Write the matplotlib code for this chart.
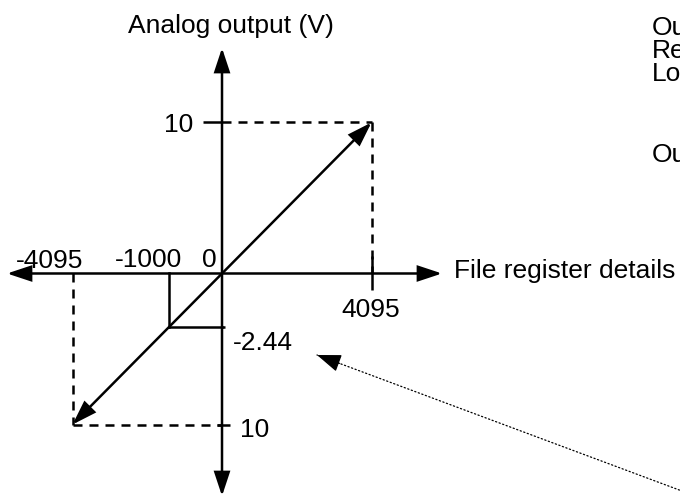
import numpy as np
import matplotlib
matplotlib.use("Agg")
import matplotlib.pyplot as plt

# ---- data -------------------------------------------------------------
reg_full = 4095            # file register full scale
volt_full = 10             # analog output full scale (V)
line_regs = [-4095, 0, 4095]
line_volts = [-10, 0, 10]
example_reg = -1000
example_volt = -2.44
x_tick_values = [-4095, -1000, 0, 4095]
x_tick_labels = ["-4095", "-1000", "0", "4095"]
y_tick_values = [10, -2.44, -10]
y_tick_labels = ["10", "-2.44", "10"]
y_title = "Analog output (V)"
x_title = "File register details"
side_lines = ["Ou", "Re", "Lo", "Ou"]

# ---- schematic (symmetric power) scale --------------------------------
P = 0.733


def make_scale(full):
    def fwd(v):
        v = np.asarray(v, dtype=float)
        return np.sign(v) * (np.abs(v) / full) ** P

    def inv(u):
        u = np.asarray(u, dtype=float)
        return np.sign(u) * np.abs(u) ** (1.0 / P) * full

    return fwd, inv


fx, ix = make_scale(reg_full)
fy, iy = make_scale(volt_full)

plt.rcParams["font.family"] = ["Liberation Sans", "DejaVu Sans"]
FS = 19
LW = 1.8

fig = plt.figure(figsize=(6.8, 4.97), dpi=100)
ax = fig.add_axes([0, 0, 1, 1])
ax.set_xscale("function", functions=(fx, ix))
ax.set_yscale("function", functions=(fy, iy))
ax.set_xlim(float(ix(-1.485)), float(ix(3.0635)))
ax.set_ylim(float(iy(-1.480)), float(iy(1.811)))
ax.axis("off")

head = "head_length=1.45,head_width=0.48"
aprops = dict(arrowstyle="<|-|>," + head, mutation_scale=10, lw=LW,
              color="black", shrinkA=0, shrinkB=0, joinstyle="miter")

# axes arrows
ax.annotate("", xy=(0.65, 0), xytext=(0.0103, 0),
            xycoords=("axes fraction", "data"),
            textcoords=("axes fraction", "data"), arrowprops=aprops)
ax.annotate("", xy=(0, 0.9034), xytext=(0, 0.002),
            xycoords=("data", "axes fraction"),
            textcoords=("data", "axes fraction"), arrowprops=aprops)

# transfer line (double headed)
ax.annotate("", xy=(line_regs[-1], line_volts[-1]),
            xytext=(line_regs[0], line_volts[0]), arrowprops=aprops)

# dashed guides
dash = (0, (3.6, 2.8))
ax.plot([0, line_regs[-1]], [line_volts[-1]] * 2, color="black", lw=LW, ls=dash)
ax.plot([line_regs[-1]] * 2, [line_volts[-1], 0], color="black", lw=LW, ls=dash)
ax.plot([line_regs[0], 0], [line_volts[0]] * 2, color="black", lw=LW, ls=dash)
ax.plot([line_regs[0]] * 2, [0, line_volts[0]], color="black", lw=LW, ls=dash)

# example point guides
ax.plot([example_reg, example_reg], [0, example_volt], color="black", lw=LW)
ax.plot([example_reg, 0], [example_volt, example_volt], color="black", lw=LW)
ax.plot([0], [example_volt], marker=1, ms=2.2, mew=LW, color="black")

# ticks
ax.plot([line_regs[-1]], [0], marker="|", ms=25, mew=LW, color="black")
ax.plot([0], [line_volts[-1]], marker=0, ms=13.7, mew=LW, color="black")
ax.plot([0], [line_volts[0]], marker=0, ms=3.6, mew=LW, color="black")
ax.plot([0], [line_volts[0]], marker=1, ms=5.8, mew=LW, color="black")

# tick labels
x_offsets = [(-22.5, 5.5), (-20.5, 6.5), (-13, 6.5), (-1, -43.5)]
for v, lab, off in zip(x_tick_values, x_tick_labels, x_offsets):
    ax.annotate(lab, xy=(v, 0), xytext=off, textcoords="offset pixels",
                ha="center", va="baseline", fontsize=FS)

y_offsets = [(-29, -9.5, "right"), (11, -22.5, "left"), (18, -12, "left")]
for v, lab, (dx, dy, ha) in zip(y_tick_values, y_tick_labels, y_offsets):
    ax.annotate(lab, xy=(0, v), xytext=(dx, dy), textcoords="offset pixels",
                ha=ha, va="baseline", fontsize=FS)

# axis titles
ax.annotate(y_title, xy=(0, 1 - 33 / 497), xycoords=("data", "axes fraction"),
            xytext=(8.5, 0), textcoords="offset pixels",
            ha="center", va="baseline", fontsize=FS)
ax.annotate(x_title, xy=(line_regs[-1], 0), xytext=(82, -4.5),
            textcoords="offset pixels", ha="left", va="baseline", fontsize=FS)

# side text (cut at the figure edge, as in the original)
for txt, base in zip(side_lines, [35, 58, 81, 162]):
    fig.text(652 / 680, 1 - base / 497, txt, fontsize=FS,
             ha="left", va="baseline")

# dotted pointer with a solid head
tip = (317, 497 - 355)
tail = (690, 497 - 494)
ax.annotate("", xy=tip, xycoords="figure pixels",
            xytext=tail, textcoords="figure pixels",
            arrowprops=dict(arrowstyle="-", lw=0.9, ls=(0, (1, 2.0)),
                            color="black", shrinkA=0, shrinkB=0))
dvec = np.subtract(tail, tip) / np.hypot(*np.subtract(tail, tip))
head_tail = tuple(np.add(tip, dvec * 24))
ax.annotate("", xy=tip, xycoords="figure pixels",
            xytext=head_tail, textcoords="figure pixels",
            arrowprops=dict(arrowstyle="-|>,head_length=1.5,head_width=0.55",
                            mutation_scale=10, lw=0.9, color="black",
                            shrinkA=0, shrinkB=0))

fig.savefig("out.png", dpi=100)
